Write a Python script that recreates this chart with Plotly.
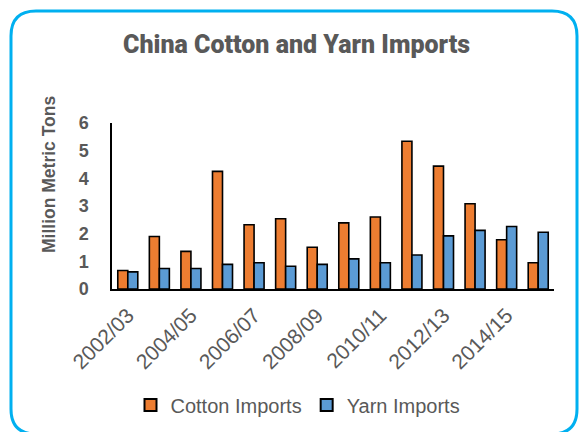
import plotly.graph_objects as go

seasons = ["2002/03", "2003/04", "2004/05", "2005/06", "2006/07", "2007/08", "2008/09",
           "2009/10", "2010/11", "2011/12", "2012/13", "2013/14", "2014/15", "2015/16"]
cotton_imports = [0.67, 1.90, 1.36, 4.25, 2.32, 2.54, 1.51, 2.39, 2.60, 5.34, 4.44, 3.08, 1.78, 0.95]
yarn_imports = [0.62, 0.74, 0.74, 0.89, 0.95, 0.82, 0.89, 1.09, 0.95, 1.23, 1.92, 2.12, 2.26, 2.05]
tick_labels = seasons[::2]

W, H = 579, 432
ML, MR, MT, MB = 112, 25, 123, 143
PW, PH = W - ML - MR, H - MT - MB

def px2paper(px, py):
    return (px - ML) / PW, (H - MB - py) / PH

TXT = "#595959"
FONT = "Liberation Sans, Arial, sans-serif"

fig = go.Figure()
fig.add_trace(go.Bar(x=seasons, y=cotton_imports, name="Cotton Imports",
                     marker=dict(color="#ED7D31", line=dict(color="black", width=1.6))))
fig.add_trace(go.Bar(x=seasons, y=yarn_imports, name="Yarn Imports",
                     marker=dict(color="#5B9BD5", line=dict(color="black", width=1.6))))

# rounded border
x0, y0, x1, y1, r = 11, 11, 577, 434, 25
def P(x, y):
    a, b = px2paper(x, y)
    return f"{a:.5f},{b:.5f}"
path = (f"M {P(x0 + r, y0)} L {P(x1 - r, y0)} Q {P(x1, y0)} {P(x1, y0 + r)} "
        f"L {P(x1, y1 - r)} Q {P(x1, y1)} {P(x1 - r, y1)} L {P(x0 + r, y1)} "
        f"Q {P(x0, y1)} {P(x0, y1 - r)} L {P(x0, y0 + r)} Q {P(x0, y0)} {P(x0 + r, y0)} Z")

tx, ty = px2paper(49, 175)
ttx, tty = px2paper(296, 45)
lx, ly = px2paper(298, 405)

fig.update_layout(
    width=W, height=H,
    margin=dict(l=ML, r=MR, t=MT, b=MB, autoexpand=False),
    paper_bgcolor="white", plot_bgcolor="white",
    barmode="group", bargap=0.366, bargroupgap=0,
    font=dict(family=FONT, color=TXT, size=17),
    showlegend=True,
    legend=dict(orientation="h", x=lx, y=ly, xanchor="center", yanchor="middle",
                font=dict(size=20, color=TXT), itemsizing="constant",
                bgcolor="rgba(0,0,0,0)", traceorder="normal"),
    shapes=[dict(type="path", path=path, xref="paper", yref="paper",
                 line=dict(color="#00B0F0", width=3), fillcolor="rgba(0,0,0,0)", layer="below")],
    annotations=[
        dict(text="<b>Million Metric Tons</b>", x=tx, y=ty, xref="paper", yref="paper",
             textangle=-90, showarrow=False, font=dict(size=17.5, color=TXT),
             xanchor="center", yanchor="middle"),
        dict(text="China Cotton and Yarn Imports", x=ttx, y=tty, xref="paper", yref="paper",
             showarrow=False, font=dict(size=25, color=TXT, weight=900,
                                        family="Roboto, Liberation Sans, sans-serif"),
             xanchor="center", yanchor="middle"),
    ],
)
fig.update_xaxes(type="category", tickmode="array", tickvals=tick_labels, ticktext=tick_labels,
                 tickangle=-45, showline=True, linecolor="black", linewidth=1.5,
                 ticks="", showgrid=False, tickfont=dict(size=21, color=TXT),
                 ticklabelstandoff=4, fixedrange=True)
fig.update_yaxes(range=[0, 6], tickmode="array", tickvals=[0, 1, 2, 3, 4, 5, 6],
                 showline=True, linecolor="black", linewidth=1.5, ticks="",
                 showgrid=False, zeroline=False, tickfont=dict(size=18, color=TXT, weight="bold"),
                 ticklabelstandoff=18, fixedrange=True)

fig.write_html("out.html", config=dict(displayModeBar=False))
